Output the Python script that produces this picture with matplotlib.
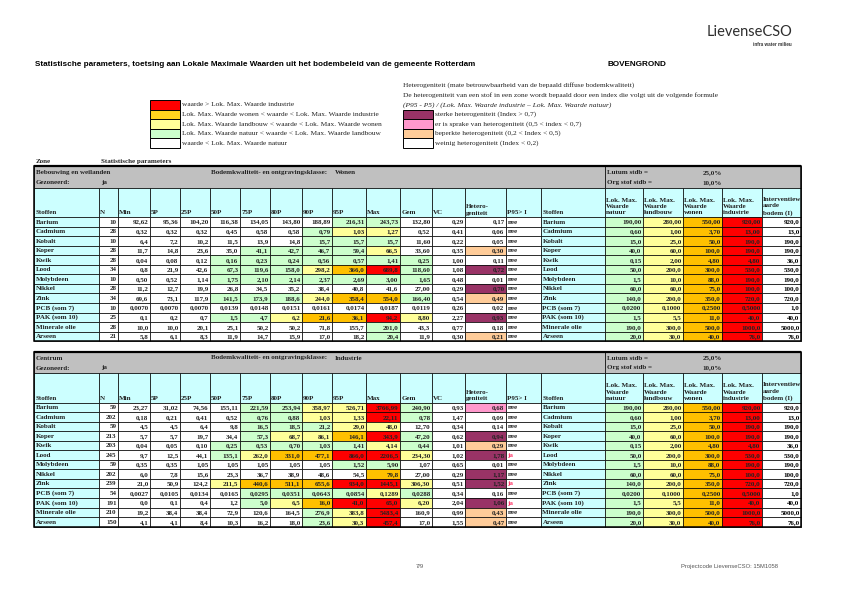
import matplotlib
matplotlib.use("Agg")
import matplotlib.pyplot as plt
from matplotlib.patches import Rectangle
from matplotlib import font_manager

# ---------------------------------------------------------------- data
stoffen = ["Barium", "Cadmium", "Kobalt", "Koper", "Kwik", "Lood", "Molybdeen",
           "Nikkel", "Zink", "PCB (som 7)", "PAK (som 10)", "Minerale olie", "Arseen"]

lok_natuur = ["190,00", "0,60", "15,0", "40,0", "0,15", "50,0", "1,5", "60,0",
              "140,0", "0,0200", "1,5", "190,0", "20,0"]
lok_landbouw = ["280,00", "1,00", "25,0", "60,0", "2,00", "200,0", "10,0", "60,0",
                "200,0", "0,1000", "5,5", "300,0", "30,0"]
lok_wonen = ["550,00", "3,70", "50,0", "100,0", "4,80", "300,0", "88,0", "75,0",
             "350,0", "0,2500", "11,0", "500,0", "40,0"]
lok_industrie = ["920,00", "13,00", "190,0", "190,0", "4,80", "530,0", "190,0", "100,0",
                 "720,0", "0,5000", "40,0", "1000,0", "76,0"]
interventie = ["920,0", "13,0", "190,0", "190,0", "36,0", "530,0", "190,0", "100,0",
               "720,0", "1,0", "40,0", "5000,0", "76,0"]

# zone 1: Bebouwing en weilanden
bw_n = ["10", "28", "10", "28", "28", "34", "10", "28", "34", "10", "25", "28", "21"]
bw_min = ["92,62", "0,32", "6,4", "11,7", "0,04", "0,8", "0,50", "11,2", "69,6", "0,0070", "0,1", "10,0", "5,8"]
bw_p5 = ["95,36", "0,32", "7,2", "14,8", "0,08", "21,9", "0,52", "12,7", "73,1", "0,0070", "0,2", "10,0", "6,1"]
bw_p25 = ["104,20", "0,32", "10,2", "23,6", "0,12", "42,6", "1,14", "19,9", "117,9", "0,0070", "0,7", "20,1", "8,3"]
bw_p50 = ["116,38", "0,45", "11,5", "35,0", "0,16", "67,3", "1,75", "26,8", "141,5", "0,0139", "1,5", "25,1", "11,9"]
bw_p75 = ["134,05", "0,58", "13,9", "41,1", "0,23", "119,6", "2,10", "34,5", "173,9", "0,0148", "4,7", "50,2", "14,7"]
bw_p80 = ["143,80", "0,58", "14,8", "42,7", "0,24", "158,0", "2,14", "35,2", "188,6", "0,0151", "6,2", "50,2", "15,9"]
bw_p90 = ["188,89", "0,79", "15,7", "46,7", "0,56", "298,2", "2,37", "38,4", "244,0", "0,0161", "21,6", "71,8", "17,0"]
bw_p95 = ["216,31", "1,03", "15,7", "59,4", "0,57", "366,0", "2,69", "40,8", "358,4", "0,0174", "36,1", "155,7", "18,2"]
bw_max = ["243,73", "1,27", "15,7", "66,5", "1,41", "689,8", "3,00", "41,6", "554,0", "0,0187", "94,2", "201,0", "20,4"]
bw_gem = ["132,80", "0,52", "11,60", "33,60", "0,25", "118,60", "1,65", "27,00", "166,40", "0,0119", "8,80", "43,3", "11,9"]
bw_vc = ["0,29", "0,41", "0,22", "0,35", "1,00", "1,08", "0,48", "0,29", "0,54", "0,26", "2,27", "0,77", "0,30"]
bw_het = ["0,17", "0,06", "0,05", "0,30", "0,11", "0,72", "0,01", "0,70", "0,49", "0,02", "0,93", "0,18", "0,21"]
bw_p95i = ["nee"] * 13

# zone 2: Centrum
ce_n = ["59", "202", "59", "213", "203", "245", "59", "202", "239", "54", "191", "210", "150"]
ce_min = ["23,27", "0,18", "4,5", "5,7", "0,04", "9,7", "0,35", "6,0", "21,0", "0,0027", "0,0", "19,2", "4,1"]
ce_p5 = ["31,02", "0,21", "4,5", "5,7", "0,05", "12,5", "0,35", "7,8", "50,9", "0,0105", "0,1", "38,4", "4,1"]
ce_p25 = ["74,56", "0,41", "6,4", "19,7", "0,10", "44,1", "1,05", "15,6", "124,2", "0,0134", "0,4", "38,4", "8,4"]
ce_p50 = ["155,11", "0,52", "9,8", "34,4", "0,25", "135,1", "1,05", "23,3", "211,5", "0,0165", "1,2", "72,9", "10,3"]
ce_p75 = ["221,59", "0,76", "16,5", "57,3", "0,53", "262,0", "1,05", "36,7", "440,6", "0,0295", "5,0", "120,6", "16,2"]
ce_p80 = ["253,94", "0,88", "18,5", "68,7", "0,70", "331,0", "1,05", "38,9", "511,1", "0,0351", "6,5", "164,5", "18,0"]
ce_p90 = ["358,97", "1,03", "21,2", "86,1", "1,03", "477,1", "1,05", "48,6", "655,6", "0,0643", "16,0", "276,9", "23,6"]
ce_p95 = ["526,71", "1,33", "29,0", "146,1", "1,41", "866,0", "1,52", "54,5", "934,0", "0,0854", "41,0", "383,8", "30,3"]
ce_max = ["3766,99", "22,11", "48,0", "343,9", "4,14", "2206,5", "5,90", "79,8", "1445,1", "0,1289", "65,0", "5483,4", "457,4"]
ce_gem = ["240,90", "0,78", "12,70", "47,20", "0,44", "234,30", "1,07", "27,00", "306,30", "0,0288", "6,20", "160,9", "17,0"]
ce_vc = ["0,93", "1,47", "0,34", "0,62", "1,01", "1,02", "0,65", "0,29", "0,51", "0,34", "2,04", "0,99", "1,55"]
ce_het = ["0,68", "0,09", "0,14", "0,94", "0,29", "1,78", "0,01", "1,17", "1,52", "0,16", "1,06", "0,43", "0,47"]
ce_p95i = ["nee", "nee", "nee", "nee", "nee", "ja", "nee", "nee", "ja", "nee", "ja", "nee", "nee"]

header_labels = ["Stoffen", "N", "Min", "5P", "25P", "50P", "75P", "80P", "90P", "95P", "Max",
                 "Gem", "VC", "Hetero-\ngeniteit", "P95> I", "Stoffen",
                 "Lok. Max.\nWaarde\nnatuur", "Lok. Max.\nWaarde\nlandbouw", "Lok. Max.\nWaarde\nwonen",
                 "Lok. Max.\nWaarde\nindustrie", "Interventiew\naarde\nbodem (I)"]

# ---------------------------------------------------------------- style
RED = "#FF0000"
ORANGE = "#FFC000"
YELLOW = "#FFFF99"
GREEN = "#CCFFCC"
CYAN = "#CCFFFF"
GREY = "#C0C0C0"
PURPLE = "#993366"
PINK = "#FF99CC"
PEACH = "#FFCC99"
TXT = "#222222"

# column edges in pixels (page is 842 x 595)
COL_EDGES = [34, 99, 118, 150, 180, 210, 240, 270, 302, 332, 366, 400, 432, 465, 506,
             541, 605, 643, 683, 722, 762, 801]
ROW_H = 9.55
FS = 5.0
LEG_FS = 5.3

names = {f.name for f in font_manager.fontManager.ttflist}
NARROW = "Liberation Sans Narrow" in names
TITLE_FONT = "Liberation Sans Narrow" if NARROW else "Liberation Sans"
TITLE_FS = 7.0 if NARROW else 5.85
SERIF = "Liberation Serif"


def num(s):
    return float(s.replace(",", "."))


def klasse_kleur(s, i):
    v = num(s)
    if v > num(lok_industrie[i]):
        return RED
    if v > num(lok_wonen[i]):
        return ORANGE
    if v > num(lok_landbouw[i]):
        return YELLOW
    if v >= num(lok_natuur[i]):
        return GREEN
    return "white"


def hetero_kleur(s):
    v = num(s)
    if v >= 0.7:
        return PURPLE
    if v >= 0.5:
        return PINK
    if v >= 0.2:
        return PEACH
    return "white"


def cell(ax, x0, x1, y0, y1, color, lw=0.5):
    ax.add_patch(Rectangle((x0, y0), x1 - x0, y1 - y0, facecolor=color,
                           edgecolor="black", linewidth=lw))


def draw_table(ax, top, zone, klasse, n, stats, gem, vc, het, p95i):
    left, right = COL_EDGES[0], COL_EDGES[-1]
    band = 21.5
    head = 29.5
    # grey band with zone info
    cell(ax, left, COL_EDGES[16], top, top + band, GREY)
    cell(ax, COL_EDGES[16], right, top, top + band, GREY)
    ax.plot([left, right], [top, top], color="black", lw=1.6, solid_capstyle="butt")
    kw = dict(fontsize=FS, family=SERIF, weight="bold", color=TXT, va="center")
    ax.text(left + 2, top + 6.5, zone, **kw)
    ax.text(211, top + 6.5, "Bodemkwaliteit- en ontgravingsklasse:", **kw)
    ax.text(335, top + 6.5, klasse, **kw)
    ax.text(left + 2, top + 16.5, "Gezoneerd:", **kw)
    ax.text(101, top + 16.5, "ja", **kw)
    ax.text(COL_EDGES[16] + 2, top + 6.5, "Lutum stdb =", **kw)
    ax.text(722, top + 6.5, "25,0%", ha="right", **kw)
    ax.text(COL_EDGES[16] + 2, top + 16.5, "Org stof stdb =", **kw)
    ax.text(722, top + 16.5, "10,0%", ha="right", **kw)

    # column headers
    hy0 = top + band
    hy1 = hy0 + head
    for c, lab in enumerate(header_labels):
        x0, x1 = COL_EDGES[c], COL_EDGES[c + 1]
        cell(ax, x0, x1, hy0, hy1, CYAN)
        ax.text(x0 + 1.2, hy1 - 1.5, lab, fontsize=FS, family=SERIF, weight="bold",
                color=TXT, va="bottom", ha="left", linespacing=1.35)

    # data rows
    for i, stof in enumerate(stoffen):
        y0 = hy1 + i * ROW_H
        y1 = y0 + ROW_H
        yc = (y0 + y1) / 2 + 0.3
        row = [(stof, CYAN, "left")]
        row.append((n[i], "white", "right"))
        for col in stats:
            row.append((col[i], klasse_kleur(col[i], i), "right"))
        row.append((gem[i], klasse_kleur(gem[i], i), "right"))
        row.append((vc[i], "white", "right"))
        row.append((het[i], hetero_kleur(het[i]), "right"))
        row.append((p95i[i], "white", "left"))
        row.append((stof, CYAN, "left"))
        row.append((lok_natuur[i], GREEN, "right"))
        row.append((lok_landbouw[i], YELLOW, "right"))
        row.append((lok_wonen[i], ORANGE, "right"))
        row.append((lok_industrie[i], RED, "right"))
        row.append((interventie[i], "white", "right"))
        for c, (txt, bg, ha) in enumerate(row):
            x0, x1 = COL_EDGES[c], COL_EDGES[c + 1]
            cell(ax, x0, x1, y0, y1, bg)
            color = TXT
            if c == 14 and txt == "ja":
                color = "#FF3366"
            if c == 20:
                color = "black"
            xt = x0 + 1.5 if ha == "left" else x1 - 1.5
            ax.text(xt, yc, txt, fontsize=FS, family=SERIF, weight="bold",
                    color=color, ha=ha, va="center")

    bottom = hy1 + len(stoffen) * ROW_H
    ax.add_patch(Rectangle((left, top), right - left, bottom - top, facecolor="none",
                           edgecolor="black", linewidth=1.1))


fig = plt.figure(figsize=(8.42, 5.95), dpi=100)
ax = fig.add_axes([0, 0, 1, 1])
ax.set_xlim(0, 842)
ax.set_ylim(595, 0)
ax.axis("off")

# logo
ax.text(792, 32, "LievenseCSO", fontsize=10.5, family="Lato", color="#2e2e2e",
        ha="right", va="center")
ax.text(792, 45, "infra water milieu", fontsize=3.3, family="Liberation Sans",
        weight="bold", color="#333333", ha="right", va="center")

# title
ax.text(35, 64, "Statistische parameters, toetsing aan Lokale Maximale Waarden uit het "
        "bodembeleid van de gemeente Rotterdam", fontsize=TITLE_FS, family=TITLE_FONT,
        weight="bold", color="black", va="center")
ax.text(608, 64, "BOVENGROND", fontsize=TITLE_FS, family=TITLE_FONT, weight="bold",
        color="black", va="center")

# legend: concentration classes
legend_left = [(RED, "waarde > Lok. Max. Waarde industrie"),
               ("#FFD21F", "Lok. Max. Waarde wonen < waarde < Lok. Max. Waarde industrie"),
               (YELLOW, "Lok. Max. Waarde landbouw < waarde < Lok. Max. Waarde wonen"),
               (GREEN, "Lok. Max. Waarde natuur < waarde < Lok. Max. Waarde landbouw"),
               ("white", "waarde < Lok. Max. Waarde natuur")]
for k, (col, lab) in enumerate(legend_left):
    y0 = 100 + k * 9.55
    cell(ax, 150, 179.5, y0, y0 + 9.55, col, lw=0.7)
    ax.text(181.5, y0 + 5, lab, fontsize=LEG_FS, family=SERIF, color=TXT, va="center")

# legend: heterogeniteit
ax.text(403, 85, "Heterogeniteit (mate betrouwbaarheid van de bepaald diffuse bodemkwaliteit)",
        fontsize=LEG_FS, family=SERIF, color=TXT, va="center")
ax.text(403, 95.5, "De heterogeniteit van een stof in een zone wordt bepaald door een index "
        "die volgt uit de volgende formule", fontsize=LEG_FS, family=SERIF, color=TXT,
        va="center")
ax.text(403, 105, "(P95 - P5) / (Lok. Max. Waarde industrie \u2013 Lok. Max. Waarde natuur)",
        fontsize=LEG_FS, family=SERIF, style="italic", color=TXT, va="center")
legend_right = [(PURPLE, "sterke heterogeniteit (Index > 0,7)"),
                (PINK, "er is sprake van heterogeniteit (0,5 < index < 0,7)"),
                (PEACH, "beperkte heterogeniteit (0,2 < Index < 0,5)"),
                ("white", "weinig heterogeniteit (Index < 0,2)")]
for k, (col, lab) in enumerate(legend_right):
    y0 = 109.5 + k * 9.55
    cell(ax, 403, 433, y0, y0 + 9.55, col, lw=0.7)
    ax.text(435, y0 + 5, lab, fontsize=LEG_FS, family=SERIF, color=TXT, va="center")

# zone tables
ax.text(36, 161.5, "Zone", fontsize=FS, family=SERIF, weight="bold", color=TXT, va="center")
ax.text(101, 161.5, "Statistische parameters", fontsize=FS, family=SERIF, weight="bold",
        color=TXT, va="center")
draw_table(ax, 166, "Bebouwing en weilanden", "Wonen", bw_n,
           [bw_min, bw_p5, bw_p25, bw_p50, bw_p75, bw_p80, bw_p90, bw_p95, bw_max],
           bw_gem, bw_vc, bw_het, bw_p95i)
draw_table(ax, 351.5, "Centrum", "Industrie", ce_n,
           [ce_min, ce_p5, ce_p25, ce_p50, ce_p75, ce_p80, ce_p90, ce_p95, ce_max],
           ce_gem, ce_vc, ce_het, ce_p95i)

# footer
ax.text(420, 566.5, "7/9", fontsize=4.2, family="Liberation Sans", color="#555555",
        ha="center", va="center")
ax.text(681, 566.5, "Projectcode LievenseCSO: 15M1058", fontsize=4.2,
        family="Liberation Sans", color="#555555", va="center")

fig.savefig("out.png", dpi=100)
